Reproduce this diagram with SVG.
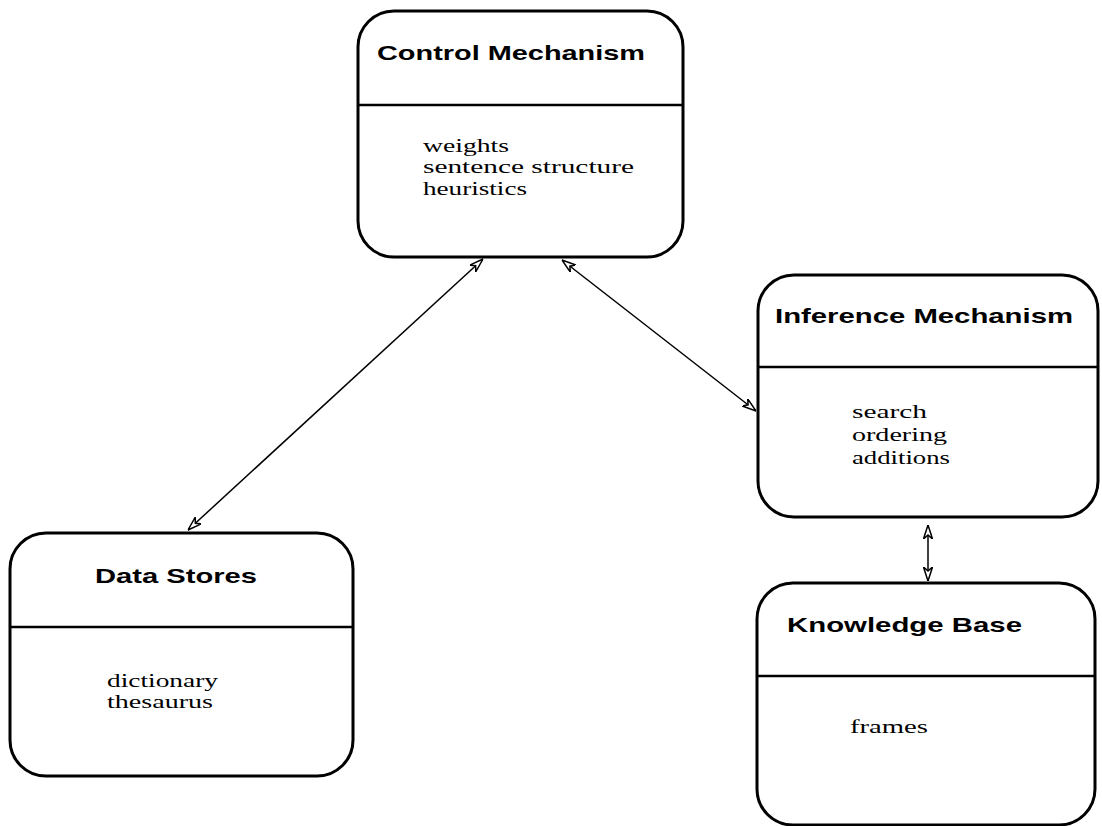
<svg xmlns="http://www.w3.org/2000/svg" width="1102" height="826" viewBox="0 0 1102 826">
<style>
.box{fill:#fff;stroke:#000;stroke-width:3}
.div{stroke:#000;stroke-width:2.5}
.title{font-family:"Liberation Sans",Arial,sans-serif;font-weight:bold;font-size:21px;fill:#000}
.body{font-family:"Liberation Serif","Times New Roman",serif;font-size:18px;fill:#000}
.conn{stroke:#000;stroke-width:1.5;fill:none}
</style>
<defs>
<marker id="arr" markerUnits="userSpaceOnUse" viewBox="0 0 14 10" refX="14" refY="5" markerWidth="14" markerHeight="10" orient="auto-start-reverse">
<path d="M0,0.5 L14,5 L0,9.5 L4,5 z" fill="#fff" stroke="#000" stroke-width="1.5"/>
</marker>
</defs>
<rect width="1102" height="826" fill="#fff"/>
<g id="connectors">
<line class="conn" x1="188" y1="530" x2="483" y2="259" marker-start="url(#arr)" marker-end="url(#arr)"/>
<line class="conn" x1="562" y1="260" x2="756" y2="411" marker-start="url(#arr)" marker-end="url(#arr)"/>
<line class="conn" x1="928" y1="525" x2="928" y2="581" marker-start="url(#arr)" marker-end="url(#arr)"/>
</g>
<g id="control">
<rect class="box" x="358" y="11" width="325" height="246" rx="36"/>
<line class="div" x1="358" y1="105" x2="683" y2="105"/>
<text class="title" x="377" y="60" textLength="268" lengthAdjust="spacingAndGlyphs">Control Mechanism</text>
<text class="body" x="423" y="152" textLength="86" lengthAdjust="spacingAndGlyphs">weights</text>
<text class="body" x="423" y="173" textLength="211" lengthAdjust="spacingAndGlyphs">sentence structure</text>
<text class="body" x="423" y="195" textLength="104" lengthAdjust="spacingAndGlyphs">heuristics</text>
</g>
<g id="inference">
<rect class="box" x="758" y="275" width="340" height="242" rx="36"/>
<line class="div" x1="758" y1="367" x2="1098" y2="367"/>
<text class="title" x="775" y="323" textLength="298" lengthAdjust="spacingAndGlyphs">Inference Mechanism</text>
<text class="body" x="852" y="418" textLength="75" lengthAdjust="spacingAndGlyphs">search</text>
<text class="body" x="852" y="441" textLength="95" lengthAdjust="spacingAndGlyphs">ordering</text>
<text class="body" x="852" y="464" textLength="98" lengthAdjust="spacingAndGlyphs">additions</text>
</g>
<g id="datastores">
<rect class="box" x="10" y="533" width="343" height="243" rx="36"/>
<line class="div" x1="10" y1="627" x2="353" y2="627"/>
<text class="title" x="95" y="583" textLength="162" lengthAdjust="spacingAndGlyphs">Data Stores</text>
<text class="body" x="107" y="687" textLength="111" lengthAdjust="spacingAndGlyphs">dictionary</text>
<text class="body" x="107" y="708" textLength="106" lengthAdjust="spacingAndGlyphs">thesaurus</text>
</g>
<g id="knowledge">
<rect class="box" x="757" y="583" width="338" height="242" rx="36"/>
<line class="div" x1="757" y1="676" x2="1095" y2="676"/>
<text class="title" x="787" y="632" textLength="235" lengthAdjust="spacingAndGlyphs">Knowledge Base</text>
<text class="body" x="850" y="733" textLength="78" lengthAdjust="spacingAndGlyphs">frames</text>
</g>
</svg>
